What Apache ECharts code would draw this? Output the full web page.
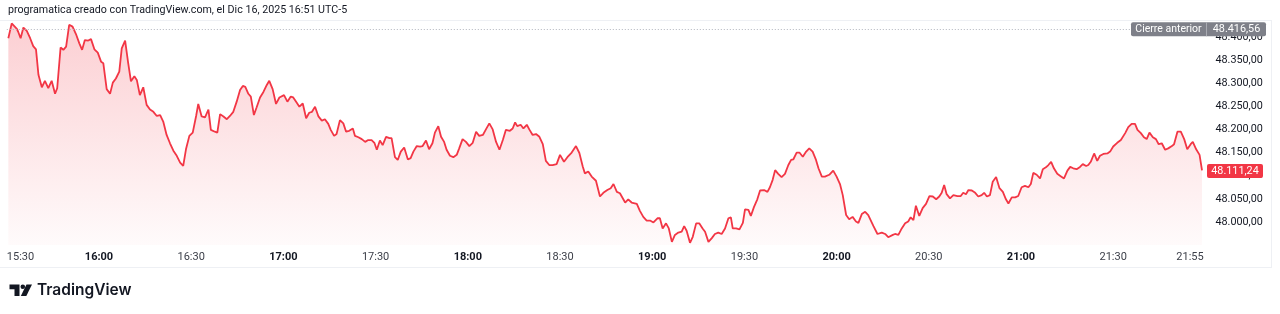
<!DOCTYPE html>
<html>
<head>
<meta charset="utf-8">
<script src="https://cdn.jsdelivr.net/npm/echarts@6/dist/echarts.min.js"></script>
<style>
html,body{margin:0;padding:0;background:#ffffff;}
#chart{width:1280px;height:314px;}
</style>
</head>
<body>
<div id="chart"></div>
<script>
// ---- data (minutes after 15:30, price) ----
const titleText = 'programatica creado con TradingView.com, el Dic 16, 2025 16:51 UTC-5';
const minutes = [
0.5,1.6,3.2,3.7,4.5,5.4,6.5,7.6,8.6,9.5,10.3,11.4,12.4,13.5,14.6,15.7,16.4,17.5,18.4,19.3,
20.3,21.4,22.5,23.6,24.5,25.4,26.5,27.4,28.5,29.6,30.7,31.4,32.5,33.6,34.5,35.5,36.6,37.4,38.5,39.5,
40.4,41.5,42.3,43.3,44.4,45.5,46.6,47.7,48.8,49.9,50.9,52.0,53.1,54.2,55.3,56.4,57.4,58.3,59.4,60.5,
61.6,62.3,63.4,64.5,65.6,66.4,67.7,68.5,69.4,70.5,71.6,72.6,73.7,74.8,75.9,76.8,77.6,78.6,79.4,80.4,
81.3,82.4,83.5,84.6,85.4,86.5,87.6,88.7,90.2,91.3,92.4,93.2,94.3,95.2,96.3,97.4,98.4,99.3,100.3,101.4,
102.5,103.5,104.6,105.4,106.5,107.3,108.4,109.5,110.4,111.4,112.6,113.3,114.4,115.5,116.6,117.6,118.7,119.6,120.4,121.4,
122.3,123.4,124.5,125.2,126.3,127.2,128.2,129.3,130.5,131.4,132.3,133.4,134.5,135.3,136.4,137.4,138.5,139.3,140.4,141.3,
142.3,143.1,144.2,145.3,146.4,147.2,148.3,149.4,150.5,151.6,152.7,153.7,154.9,155.9,157.0,158.1,159.2,160.3,161.4,162.4,
163.7,164.6,165.4,166.1,167.2,168.1,169.2,170.0,171.1,172.2,173.3,174.4,175.4,176.5,177.6,178.9,180.0,181.3,182.4,183.8,
185.2,186.3,187.4,188.1,189.2,190.3,191.7,193.0,194.1,195.4,196.5,197.4,198.5,199.5,201.2,202.2,203.3,205.0,206.0,207.1,
208.2,209.3,210.4,211.7,212.5,213.4,214.5,215.4,216.4,217.4,218.5,219.6,220.4,221.2,222.3,223.2,224.3,225.3,226.4,227.2,
228.3,229.4,230.4,231.5,232.6,233.7,234.8,235.6,236.2,237.3,238.4,239.5,240.2,241.3,242.1,243.1,244.2,245.1,246.4,247.5,
248.3,249.2,250.0,251.0,252.1,253.2,254.3,255.2,255.9,257.0,257.9,259.0,260.1,261.1,262.2,263.3,264.1,265.2,266.2,267.6,
268.9,270.0,271.1,272.0,273.1,274.1,275.2,276.3,277.1,278.2,279.3,280.3,282.0,283.3,284.7,285.8,286.8,288.3,289.0,290.1,
291.2,292.3,293.3,294.1,295.0,295.8,296.9,298.0,299.1,300.2,301.3,302.4,303.4,304.2,305.0,305.8,306.9,308.0,309.3,310.4,
311.2,312.1,312.9,314.0,315.1,316.1,317.2,318.0,318.9,319.9,320.8,321.9,323.0,324.1,325.1,325.9,327.0,328.1,329.1,330.2,
331.3,332.4,333.2,334.0,335.1,336.2,337.1,338.1,338.9,339.8,340.7,341.8,342.9,344.0,345.1,346.0,347.0,348.1,349.2,350.1,
351.2,351.9,352.7,353.8,354.8,355.7,356.8,358.1,359.0,360.0,361.3,362.5,363.1,363.9,364.9,366.0,367.1,367.9,369.0,370.0,
370.9,371.8,372.9,373.9,374.8,375.8,376.9,377.9,379.1,379.8,380.9,382.0,383.1,384.1,385.2,385.9,387.0,388.1,388.9
];
const prices = [
48397,48429,48418,48411,48397,48420,48413,48397,48380,48373,48318,48291,48305,48289,48305,48277,48289,48377,48372,48379,
48426,48422,48406,48386,48372,48393,48392,48395,48373,48366,48346,48343,48287,48277,48301,48310,48325,48375,48392,48343,
48304,48315,48307,48274,48291,48253,48243,48238,48229,48231,48217,48188,48170,48154,48143,48128,48121,48157,48186,48193,
48229,48255,48228,48226,48243,48199,48195,48193,48233,48228,48222,48229,48238,48260,48285,48294,48292,48277,48271,48231,
48248,48269,48281,48296,48305,48287,48255,48269,48274,48260,48271,48269,48258,48249,48256,48224,48236,48238,48249,48228,
48219,48222,48212,48199,48186,48190,48220,48213,48195,48197,48202,48186,48183,48179,48173,48177,48177,48171,48156,48176,
48166,48184,48181,48181,48140,48134,48152,48161,48135,48138,48152,48164,48163,48164,48176,48157,48170,48193,48207,48184,
48173,48156,48143,48140,48145,48159,48179,48173,48164,48171,48195,48186,48188,48200,48213,48200,48173,48156,48177,48199,
48197,48202,48215,48207,48210,48202,48210,48200,48188,48190,48184,48168,48132,48123,48123,48125,48145,48130,48140,48150,
48164,48149,48120,48105,48109,48098,48089,48055,48063,48069,48073,48082,48065,48062,48042,48049,48042,48039,48024,48011,
48003,48003,47999,48008,48008,47986,47997,47986,47957,47972,47977,47979,47991,47981,47955,47968,47997,47997,47986,47979,
47957,47965,47974,47977,47974,47986,48008,48010,47986,47986,47984,47998,48027,48026,48013,48032,48049,48068,48069,48065,
48075,48091,48112,48104,48097,48104,48123,48134,48135,48150,48150,48141,48152,48159,48152,48134,48116,48098,48098,48102,
48111,48098,48082,48058,48015,48006,48011,48001,47998,48017,48022,48015,47991,47974,47977,47974,47967,47972,47974,47972,
47986,47997,48001,48010,48004,48035,48013,48030,48039,48056,48055,48049,48055,48063,48080,48060,48051,48058,48056,48056,
48063,48060,48069,48068,48063,48055,48058,48063,48055,48058,48087,48097,48073,48065,48049,48040,48053,48053,48056,48075,
48078,48075,48082,48106,48102,48094,48114,48118,48123,48130,48116,48104,48099,48094,48111,48119,48116,48114,48119,48125,
48121,48123,48130,48148,48132,48143,48147,48148,48152,48163,48171,48177,48179,48192,48205,48212,48212,48199,48192,48183,
48179,48193,48183,48179,48168,48170,48156,48159,48164,48168,48195,48195,48179,48157,48168,48173,48157,48145,48111.24
];
const prevClose = 48416.56;
const prevCloseLabel = 'Cierre anterior';
const xTickMinutes = [0, 30, 60, 90, 120, 150, 180, 210, 240, 270, 300, 330, 360, 385];
const xTickLabels = ['15:30','16:00','16:30','17:00','17:30','18:00','18:30','19:00','19:30','20:00','20:30','21:00','21:30','21:55'];
const xTickBold = [false,true,false,true,false,true,false,true,false,true,false,true,false,false];
const yTicks = [48000, 48050, 48100, 48150, 48200, 48250, 48300, 48350, 48400];
const brandText = 'TradingView';

function fmtEs(v) {
  const s = v.toFixed(2);
  const parts = s.split('.');
  const int = parts[0].replace(/\B(?=(\d{3})+(?!\d))/g, '.');
  return int + ',' + parts[1];
}

const RED = '#F23645';
const TXT = '#131722';
const FONT = 'Roboto, "Noto Sans", sans-serif';
const BFONT = 'Inter, Roboto, sans-serif';

const chart = echarts.init(document.getElementById('chart'), null, {renderer: 'canvas'});
const seriesData = minutes.map((m, i) => [m, prices[i]]);

chart.setOption({
  animation: false,
  backgroundColor: '#ffffff',
  textStyle: {fontFamily: FONT},
  grid: {left: 6.8, right: 74.6, top: 13.7, bottom: 68.9, containLabel: false},
  xAxis: {
    type: 'value', min: 0, max: 390, interval: 30,
    axisLine: {show: false}, axisTick: {show: false}, splitLine: {show: false},
    axisLabel: {
      customValues: xTickMinutes,
      margin: 7,
      fontSize: 11,
      color: TXT,
      fontFamily: FONT,
      alignMinLabel: 'left',
      hideOverlap: false,
      formatter: function (v) {
        const i = xTickMinutes.indexOf(v);
        if (i < 0) return '';
        return xTickBold[i] ? '{b|' + xTickLabels[i] + '}' : '{n|' + xTickLabels[i] + '}';
      },
      rich: {
        b: {fontSize: 11, fontWeight: 700, color: TXT, fontFamily: FONT},
        n: {fontSize: 11, fontWeight: 400, color: '#3d404a', fontFamily: FONT}
      }
    }
  },
  yAxis: {
    type: 'value', position: 'right', min: 47950, max: 48450, interval: 50,
    axisLine: {show: false}, axisTick: {show: false}, splitLine: {show: false},
    axisLabel: {
      customValues: yTicks,
      margin: 10, fontSize: 10.8, color: TXT, fontFamily: FONT, align: 'left',
      formatter: function (v) { return (v >= 48000 && v <= 48400) ? fmtEs(v) : ''; }
    }
  },
  series: [{
    type: 'line',
    data: seriesData,
    showSymbol: false,
    symbol: 'none',
    lineStyle: {color: RED, width: 1.8},
    itemStyle: {color: RED},
    areaStyle: {
      origin: 'start',
      color: new echarts.graphic.LinearGradient(0, 0, 0, 1, [
        {offset: 0, color: 'rgba(242,54,69,0.34)'},
        {offset: 1, color: 'rgba(242,54,69,0.03)'}
      ])
    },
    markLine: {
      silent: true,
      symbol: 'none',
      label: {show: false},
      lineStyle: {color: '#b2b5be', type: [1, 2], width: 1},
      data: [{yAxis: prevClose}]
    },
    z: 3
  }]
});

function drawOverlays() {
  const yPrev = chart.convertToPixel({yAxisIndex: 0}, prevClose);
  const yLast = chart.convertToPixel({yAxisIndex: 0}, prices[prices.length - 1]);
  const els = [
    // frame
    {type: 'line', shape: {x1: 0, y1: 20.5, x2: 1272, y2: 20.5}, style: {stroke: '#eef0f4', lineWidth: 1}, silent: true, z: 1},
    {type: 'line', shape: {x1: 0, y1: 267.5, x2: 1272, y2: 267.5}, style: {stroke: '#eef0f4', lineWidth: 1}, silent: true, z: 1},
    {type: 'line', shape: {x1: 1271.5, y1: 20, x2: 1271.5, y2: 268}, style: {stroke: '#eef0f4', lineWidth: 1}, silent: true, z: 1},
    // title
    {type: 'text', left: 8, top: 5, style: {text: titleText, font: '400 10.7px ' + FONT, fill: TXT}, z: 10},
    // prev close badge
    {type: 'rect', shape: {x: 1131, y: yPrev - 7, width: 135, height: 14, r: 2}, style: {fill: '#7e8089'}, z: 20},
    {type: 'line', shape: {x1: 1206.5, y1: yPrev - 7, x2: 1206.5, y2: yPrev + 7}, style: {stroke: '#a9abb2', lineWidth: 1}, z: 21},
    {type: 'text', x: 1168.5, y: yPrev, style: {text: prevCloseLabel, font: '400 10.5px ' + FONT, fill: '#ffffff', align: 'center', verticalAlign: 'middle'}, z: 22},
    {type: 'text', x: 1236.5, y: yPrev, style: {text: fmtEs(prevClose), font: '400 10.8px ' + FONT, fill: '#ffffff', align: 'center', verticalAlign: 'middle'}, z: 22},
    // last price badge
    {type: 'rect', shape: {x: 1207, y: yLast - 6.5, width: 56, height: 14, r: 2}, style: {fill: RED}, z: 20},
    {type: 'text', x: 1235, y: yLast + 0.5, style: {text: fmtEs(prices[prices.length - 1]), font: '400 10.8px ' + FONT, fill: '#ffffff', align: 'center', verticalAlign: 'middle'}, z: 22},
    // logo
    {type: 'polygon', shape: {points: [[9.5,284.5],[19.5,284.5],[19.5,296],[14.5,296],[14.5,289.2],[9.5,289.2]]}, style: {fill: TXT}, z: 10},
    {type: 'circle', shape: {cx: 22.8, cy: 286.8, r: 2.3}, style: {fill: TXT}, z: 10},
    {type: 'polygon', shape: {points: [[26.5,284.5],[32,284.5],[26.3,296],[20.8,296]]}, style: {fill: TXT}, z: 10},
    {type: 'text', left: 37, top: 282, style: {text: brandText, font: '600 15.5px ' + BFONT, fill: TXT}, z: 10}
  ];
  chart.setOption({graphic: {elements: els}});
}
drawOverlays();
</script>
</body>
</html>
